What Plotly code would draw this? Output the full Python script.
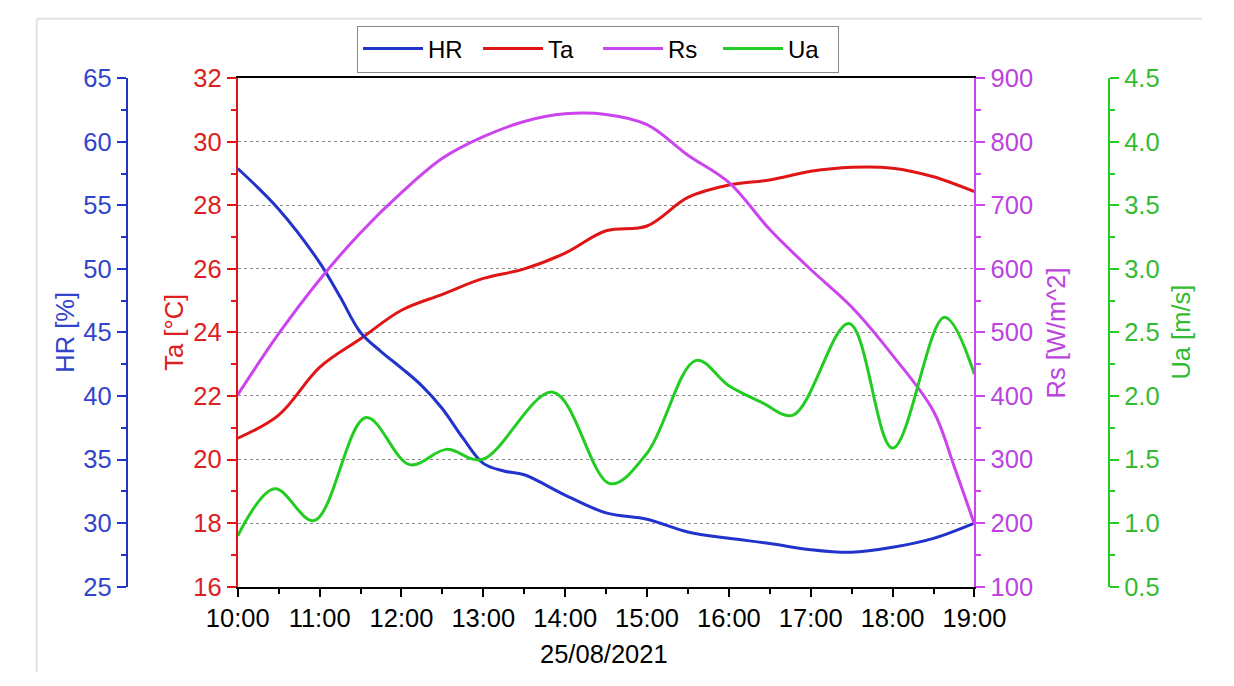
import plotly.graph_objects as go

DATE = "2021-08-25"

# ---- data ----
hr_time = ["10:00", "10:30", "11:00", "11:15", "11:30", "11:45", "12:00", "12:15", "12:30", "12:45",
           "13:00", "13:15", "13:30", "14:00", "14:30", "15:00", "15:30", "16:00", "16:30", "17:00",
           "17:30", "18:00", "18:30", "19:00"]
hr_values = [57.9, 54.7, 50.5, 47.8, 45.0, 43.5, 42.2, 40.8, 39.0, 36.7,
             34.7, 34.1, 33.8, 32.2, 30.8, 30.3, 29.3, 28.8, 28.4, 27.9,
             27.7, 28.1, 28.8, 30.0]

ta_time = ["10:00", "10:30", "11:00", "11:30", "12:00", "12:30", "13:00", "13:30", "14:00", "14:30",
           "15:00", "15:30", "16:00", "16:30", "17:00", "17:30", "18:00", "18:30", "19:00"]
ta_values = [20.67, 21.4, 22.9, 23.8, 24.7, 25.2, 25.7, 26.0, 26.5, 27.2,
             27.35, 28.25, 28.64, 28.8, 29.07, 29.2, 29.17, 28.9, 28.43]

rs_time = ["10:00", "10:30", "11:00", "11:30", "12:00", "12:30", "13:00", "13:30", "14:00", "14:30",
           "15:00", "15:30", "16:00", "16:30", "17:00", "17:30", "18:00", "18:30", "18:45", "19:00"]
rs_values = [402, 498, 583, 657, 720, 774, 808, 832, 844, 843,
             827, 779, 736, 662, 599, 540, 464, 376, 290, 198]

ua_time = ["10:00", "10:27", "10:56", "11:34", "12:06", "12:33", "12:59", "13:51", "14:33", "15:00",
           "15:36", "16:00", "16:24", "16:47", "17:28", "18:00", "18:38", "19:00"]
ua_values = [0.90, 1.27, 1.02, 1.83, 1.46, 1.58, 1.50, 2.03, 1.31, 1.55,
             2.28, 2.08, 1.95, 1.85, 2.57, 1.59, 2.62, 2.17]

x_title = "25/08/2021"

# ---- style ----
W, H = 1234, 686
FONT = "Liberation Sans, Arial, sans-serif"
FS = 25.5
LEG_FS = 24
BLUE, BLUE_T = "#2233CC", "#3344CC"
RED, RED_T = "#E01515", "#DD2020"
MAG, MAG_T = "#CC44EE", "#BB44DD"
GRN, GRN_T = "#22CC22", "#33BB33"

def ts(t):
    return f"{DATE} {t}"

fig = go.Figure()
fig.add_trace(go.Scatter(x=[ts(t) for t in hr_time], y=hr_values, name="HR", yaxis="y2",
                         mode="lines", line=dict(color=BLUE, width=3, shape="spline")))
fig.add_trace(go.Scatter(x=[ts(t) for t in ta_time], y=ta_values, name="Ta", yaxis="y",
                         mode="lines", line=dict(color=RED, width=3, shape="spline")))
fig.add_trace(go.Scatter(x=[ts(t) for t in rs_time], y=rs_values, name="Rs", yaxis="y3",
                         mode="lines", line=dict(color=MAG, width=3, shape="spline")))
fig.add_trace(go.Scatter(x=[ts(t) for t in ua_time], y=ua_values, name="Ua", yaxis="y4",
                         mode="lines", line=dict(color=GRN, width=3, shape="spline")))

x0, x1 = 217 / W, 994 / W
y0, y1 = 1 - 597 / H, 1 - 67 / H

def yax(color, tcolor, rng, dtick, mdtick, **kw):
    d = dict(range=rng, dtick=dtick, tick0=rng[0], ticks="outside", ticklen=9, tickwidth=2,
             tickcolor=color, showline=True, linecolor=color, linewidth=2,
             tickfont=dict(color=tcolor, size=FS, family=FONT), showgrid=False, zeroline=False,
             minor=dict(dtick=mdtick, tick0=rng[0], ticks="outside", ticklen=5, tickwidth=2,
                        tickcolor=color, showgrid=False),
             domain=[y0, y1], fixedrange=True)
    d.update(kw)
    return d

fig.update_layout(
    width=W, height=H, autosize=False,
    margin=dict(l=0, r=0, t=0, b=0),
    paper_bgcolor="white", plot_bgcolor="white",
    font=dict(family=FONT, size=FS, color="black"),
    showlegend=True,
    legend=dict(orientation="h", x=597 / W, xanchor="center", y=1 - 12 / H, yanchor="top",
                bordercolor="#888888", borderwidth=1, font=dict(size=LEG_FS, family=FONT, color="black"),
                itemwidth=60, entrywidth=45, entrywidthmode="pixels", bgcolor="white"),
    xaxis=dict(type="date", domain=[x0, x1], range=[ts("10:00"), ts("19:00")],
               dtick=3600000, tick0=ts("10:00"), tickformat="%H:%M",
               ticks="outside", ticklen=8, tickwidth=2, tickcolor="black",
               showline=True, linecolor="black", linewidth=2, mirror=True,
               showgrid=False, zeroline=False, anchor="y",
               tickfont=dict(size=FS, family=FONT, color="black"),
               minor=dict(dtick=1800000, ticks="outside", ticklen=5, tickwidth=2, tickcolor="black"),
               fixedrange=True),
    yaxis=yax(RED, RED_T, [16, 32], 2, 1, side="left", anchor="x", showgrid=True,
              gridcolor="#8a8a8a", griddash="dot", gridwidth=1),
    yaxis2=yax(BLUE, BLUE_T, [25, 65], 5, 2.5, side="left", overlaying="y", anchor="free",
               position=100 / W),
    yaxis3=yax(MAG, MAG_T, [100, 900], 100, 50, side="right", overlaying="y", anchor="x"),
    yaxis4=yax(GRN, GRN_T, [0.5, 4.5], 0.5, 0.25, side="right", overlaying="y", anchor="free",
               position=1136 / W, tickformat=".1f"),
)

def title_ann(text, xpx, ypx, color, angle=-90):
    fig.add_annotation(text=text, x=xpx / W, y=1 - ypx / H, xref="paper", yref="paper",
                       showarrow=False, textangle=angle, xanchor="center", yanchor="middle",
                       font=dict(size=FS, family=FONT, color=color))

title_ann("HR [%]", 35, 332, BLUE_T)
title_ann("Ta [°C]", 150, 332, RED_T)
title_ann("Rs [W/m^2]", 1080, 332, MAG_T)
title_ann("Ua [m/s]", 1212, 332, GRN_T)
title_ann(x_title, 603, 667, "black", angle=0)

# light outer frame
fig.add_shape(type="line", xref="paper", yref="paper", x0=5 / W, x1=1, y0=1 - 5 / H, y1=1 - 5 / H,
              line=dict(color="#e2e2e2", width=2))
fig.add_shape(type="line", xref="paper", yref="paper", x0=5 / W, x1=5 / W, y0=0, y1=1 - 5 / H,
              line=dict(color="#e2e2e2", width=2))

fig.write_html("out.html", config={"displayModeBar": False},
               post_script="document.body.style.margin='0';document.body.style.overflow='hidden';")
